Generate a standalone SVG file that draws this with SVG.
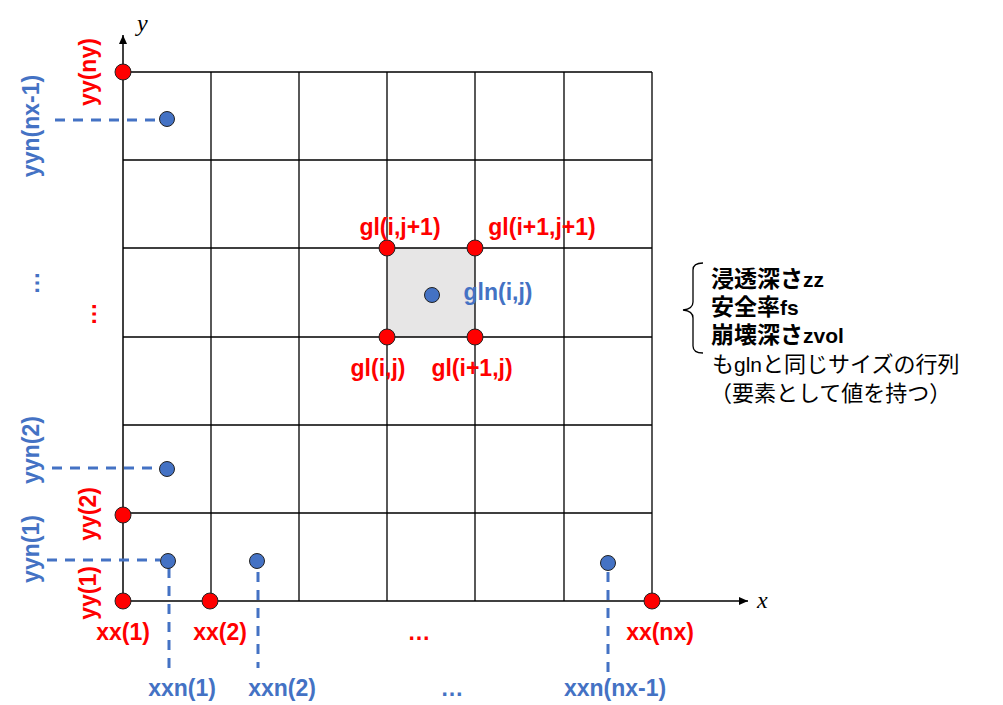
<svg xmlns="http://www.w3.org/2000/svg" width="1003" height="705" viewBox="0 0 1003 705">
<defs>
<style>
.grid{stroke:#000;stroke-width:1.3;fill:none}
.axis{stroke:#000;stroke-width:1.5;fill:none}
.dash{stroke:#4472c4;stroke-width:3;stroke-dasharray:10 8;fill:none}
.rd{fill:#ff0000;stroke:#222;stroke-width:1}
.bd{fill:#4472c4;stroke:#222;stroke-width:1}
.lr{font-family:"Liberation Sans",Arial,sans-serif;font-weight:bold;font-size:23px;fill:#ff0000}
.lb{font-family:"Liberation Sans",Arial,sans-serif;font-weight:bold;font-size:23px;fill:#4472c4}
.ax{font-family:"Liberation Serif","Times New Roman",serif;font-style:italic;font-size:24px;fill:#000}
.jb{font-family:"Noto Sans CJK JP",sans-serif;font-weight:bold;font-size:23px;fill:#000}
.jn{font-family:"Noto Sans CJK JP",sans-serif;font-size:22px;fill:#000}
.lat{font-family:"Liberation Sans",Arial,sans-serif;font-size:21px}
</style>
<marker id="arr" markerWidth="10" markerHeight="10" refX="9" refY="4" orient="auto" markerUnits="userSpaceOnUse">
<path d="M0,0 L9,4 L0,8 Z" fill="#000"/>
</marker>
</defs>
<rect width="1003" height="705" fill="#fff"/>
<g id="cell">
<rect x="387" y="248" width="88" height="89" fill="#e7e6e6"/>
</g>
<g id="grid">
<path class="grid" d="M211,72V601M299,72V601M387,72V601M475,72V601M564,72V601M652,72V601M123,72H652M123,160H652M123,248H652M123,337H652M123,425H652M123,513H652"/>
</g>
<g id="connectors">
<line class="axis" x1="123" y1="601" x2="123" y2="35" marker-end="url(#arr)"/>
<line class="axis" x1="123" y1="601" x2="748" y2="601" marker-end="url(#arr)"/>
<line class="dash" x1="55" y1="120" x2="160" y2="120"/>
<line class="dash" x1="52" y1="468" x2="160" y2="468"/>
<line class="dash" x1="47" y1="560" x2="160" y2="560"/>
<line class="dash" x1="169" y1="568" x2="169" y2="668"/>
<line class="dash" x1="258" y1="572" x2="258" y2="668"/>
<line class="dash" x1="608" y1="572" x2="608" y2="672"/>
</g>
<g id="axis-labels">
<text class="ax" x="137" y="31">y</text>
<text class="ax" x="757" y="608">x</text>
</g>
<g id="red-points">
<circle class="rd" cx="123" cy="72" r="8"/>
<circle class="rd" cx="123" cy="515" r="8"/>
<circle class="rd" cx="123" cy="601" r="8"/>
<circle class="rd" cx="210" cy="601" r="8"/>
<circle class="rd" cx="652" cy="601" r="8"/>
<circle class="rd" cx="387" cy="248" r="8"/>
<circle class="rd" cx="475" cy="248" r="8"/>
<circle class="rd" cx="387" cy="337" r="8"/>
<circle class="rd" cx="475" cy="337" r="8"/>
</g>
<g id="blue-points">
<circle class="bd" cx="167" cy="119" r="7.5"/>
<circle class="bd" cx="167" cy="469" r="7.5"/>
<circle class="bd" cx="168" cy="561" r="7.5"/>
<circle class="bd" cx="257" cy="561" r="7.5"/>
<circle class="bd" cx="608" cy="563" r="7.5"/>
<circle class="bd" cx="432" cy="295" r="7.5"/>
</g>
<g id="y-labels">
<text class="lb" text-anchor="middle" transform="translate(39,126) rotate(-90)">yyn(nx-1)</text>
<text class="lr" text-anchor="middle" transform="translate(96,72) rotate(-90)">yy(ny)</text>
<text class="lb" text-anchor="middle" transform="translate(39,450) rotate(-90)">yyn(2)</text>
<text class="lr" text-anchor="middle" transform="translate(96,514) rotate(-90)">yy(2)</text>
<text class="lb" text-anchor="middle" transform="translate(39,549) rotate(-90)">yyn(1)</text>
<text class="lr" text-anchor="middle" transform="translate(96,593) rotate(-90)">yy(1)</text>
<text class="lb" text-anchor="middle" transform="translate(39,283) rotate(-90)">…</text>
<text class="lr" text-anchor="middle" transform="translate(96,314) rotate(-90)">…</text>
</g>
<g id="x-labels">
<text class="lr" text-anchor="middle" x="123" y="640">xx(1)</text>
<text class="lr" text-anchor="middle" x="220" y="640">xx(2)</text>
<text class="lr" text-anchor="middle" x="419" y="640">…</text>
<text class="lr" text-anchor="middle" x="660" y="640">xx(nx)</text>
<text class="lb" text-anchor="middle" x="182" y="696">xxn(1)</text>
<text class="lb" text-anchor="middle" x="282" y="696">xxn(2)</text>
<text class="lb" text-anchor="middle" x="452" y="696">…</text>
<text class="lb" text-anchor="middle" x="615" y="696">xxn(nx-1)</text>
</g>
<g id="cell-labels">
<text class="lr" text-anchor="middle" x="400" y="235">gl(i,j+1)</text>
<text class="lr" text-anchor="middle" x="542" y="235">gl(i+1,j+1)</text>
<text class="lr" text-anchor="middle" x="378" y="376">gl(i,j)</text>
<text class="lr" text-anchor="middle" x="472" y="376">gl(i+1,j)</text>
<text class="lb" text-anchor="middle" x="498" y="300">gln(i,j)</text>
</g>
<g id="note">
<path d="M703,263 Q693,263 693,270 L693,302 Q693,309 683,310 Q693,311 693,318 L693,346 Q693,353 703,353" fill="none" stroke="#000" stroke-width="1.3"/>
<text class="jb" x="711" y="287">浸透深さ<tspan class="lat" font-weight="bold">zz</tspan></text>
<text class="jb" x="711" y="315">安全率<tspan class="lat" font-weight="bold">fs</tspan></text>
<text class="jb" x="711" y="343">崩壊深さ<tspan class="lat" font-weight="bold">zvol</tspan></text>
<text class="jn" x="712" y="372">も<tspan class="lat" font-size="23px">gln</tspan>と同じサイズの行列</text>
<text class="jn" x="710" y="401" font-size="23.5px">（要素として値を持つ）</text>
</g>
</svg>
